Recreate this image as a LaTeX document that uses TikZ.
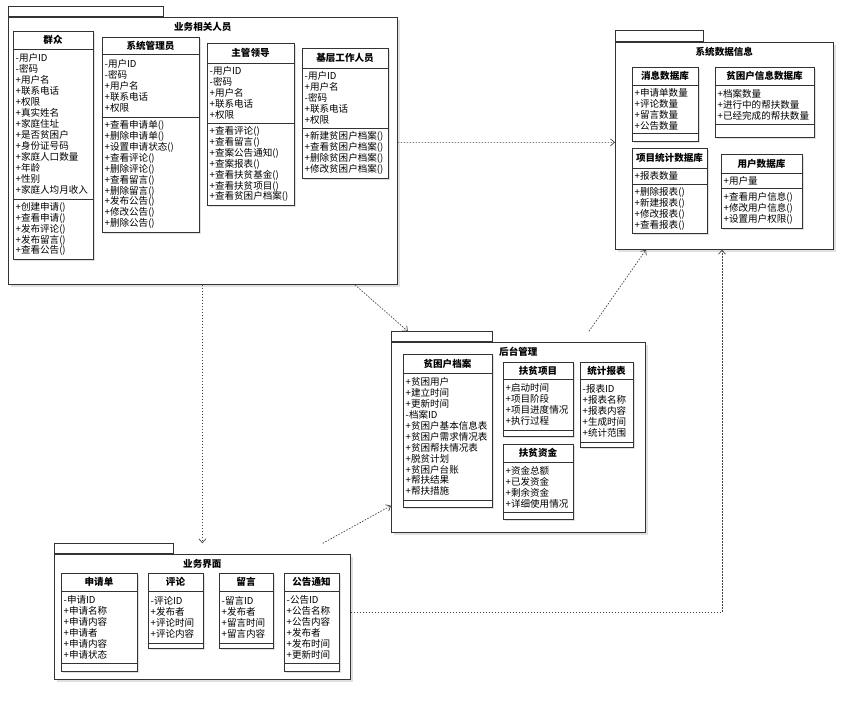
\documentclass[tikz,border=0pt]{standalone}
\usepackage{fontspec}
\setmainfont{Noto Sans CJK SC}
\usetikzlibrary{arrows.meta,shadows,calc}

\tikzset{
  line/.style={draw=black!80, line width=0.7bp},
  pkg/.style={line, fill=white, inner sep=0pt, anchor=north west,
    drop shadow={shadow xshift=2.5bp, shadow yshift=-2.5bp, fill=black!12, opacity=1}},
  pkgtab/.style={line, fill=white, inner sep=0pt, anchor=south west},
  pttl/.style={font=\bfseries\fontsize{9.6}{11}\selectfont, inner sep=0pt},
  cttl/.style={font=\bfseries\fontsize{9.6}{11}\selectfont, inner sep=0pt},
  lst/.style={font=\fontsize{9.6}{11}\selectfont, align=left, anchor=west, inner sep=0pt},
  dep/.style={draw=black!75, line width=0.7bp, dash pattern=on 1.5bp off 1.5bp,
    -{Straight Barb[length=4bp,width=7bp]}}
}

\newcommand{\umlbox}[7]{%
  \fill[black!12] (#2+2,#3+2) rectangle (#4+2,#7+2);
  \draw[line, fill=white] (#2,#3) rectangle (#4,#7);
  \draw[line] (#2,#5) -- (#4,#5) (#2,#6) -- (#4,#6);
  \coordinate (#1-hd) at ({(#2+#4)/2},{(#3+#5)/2});
  \coordinate (#1-at) at (#2+2.5,{(#5+#6)/2});
  \coordinate (#1-op) at (#2+2.5,{(#6+#7)/2});
}

\begin{document}
\begin{tikzpicture}[x=1bp,y=-1bp]
  \useasboundingbox (0,0) rectangle (863,709);

  \node[pkg, minimum width=389bp, minimum height=267bp] (peo) at (8,17) {};
  \node[pkgtab, minimum width=155bp, minimum height=10bp] (peo-tab) at (peo.north west) {};
  \node[pttl] (peo-t) at ([yshift=-10bp]peo.north) {业务相关人员};

  \node[pkg, minimum width=218bp, minimum height=207bp] (db) at (615,42) {};
  \node[pkgtab, minimum width=88bp, minimum height=11bp] (db-tab) at (db.north west) {};
  \node[pttl] (db-t) at ([yshift=-10bp]db.north) {系统数据信息};

  \node[pkg, minimum width=254bp, minimum height=190bp] (ht) at (391,342) {};
  \node[pkgtab, minimum width=101bp, minimum height=10bp] (ht-tab) at (ht.north west) {};
  \node[pttl] (ht-t) at ([yshift=-10bp]ht.north) {后台管理};

  \node[pkg, minimum width=296bp, minimum height=125bp] (jm) at (54,554) {};
  \node[pkgtab, minimum width=119bp, minimum height=10bp] (jm-tab) at (jm.north west) {};
  \node[pttl] (jm-t) at ([yshift=-10bp]jm.north) {业务界面};

  \umlbox{qz}{13}{31}{93}{49}{199}{259}
  \node[cttl] (qz-t) at (qz-hd) {群众};
  \node[lst] (qz-a) at (qz-at) {-用户ID\\-密码\\+用户名\\+联系电话\\+权限\\+真实姓名\\+家庭住址\\+是否贫困户\\+身份证号码\\+家庭人口数量\\+年龄\\+性别\\+家庭人均月收入};
  \node[lst] (qz-o) at (qz-op) {+创建申请()\\+查看申请()\\+发布评论()\\+发布留言()\\+查看公告()};

  \umlbox{gly}{102}{37}{199}{54}{117}{232}
  \node[cttl] (gly-t) at (gly-hd) {系统管理员};
  \node[lst] (gly-a) at (gly-at) {-用户ID\\-密码\\+用户名\\+联系电话\\+权限};
  \node[lst] (gly-o) at (gly-op) {+查看申请单()\\+删除申请单()\\+设置申请状态()\\+查看评论()\\+删除评论()\\+查看留言()\\+删除留言()\\+发布公告()\\+修改公告()\\+删除公告()};

  \umlbox{ld}{207}{43}{294}{63}{123}{205}
  \node[cttl] (ld-t) at (ld-hd) {主管领导};
  \node[lst] (ld-a) at (ld-at) {-用户ID\\-密码\\+用户名\\+联系电话\\+权限};
  \node[lst] (ld-o) at (ld-op) {+查看评论()\\+查看留言()\\+查案公告通知()\\+查案报表()\\+查看扶贫基金()\\+查看扶贫项目()\\+查看贫困户档案()};

  \umlbox{jc}{302}{48}{388}{68}{128}{178}
  \node[cttl] (jc-t) at (jc-hd) {基层工作人员};
  \node[lst] (jc-a) at (jc-at) {-用户ID\\+用户名\\-密码\\+联系电话\\+权限};
  \node[lst] (jc-o) at (jc-op) {+新建贫困户档案()\\+查看贫困户档案()\\+删除贫困户档案()\\+修改贫困户档案()};

  \umlbox{xx}{632}{67}{698}{85}{133}{141}
  \node[cttl] (xx-t) at (xx-hd) {消息数据库};
  \node[lst] (xx-a) at (xx-at) {+申请单数量\\+评论数量\\+留言数量\\+公告数量};

  \umlbox{pkx}{715}{67}{814}{85}{124}{137}
  \node[cttl] (pkx-t) at (pkx-hd) {贫困户信息数据库};
  \node[lst] (pkx-a) at (pkx-at) {+档案数量\\+进行中的帮扶数量\\+已经完成的帮扶数量};

  \umlbox{xmtj}{632}{148}{707}{168}{184}{233}
  \node[cttl] (xmtj-t) at (xmtj-hd) {项目统计数据库};
  \node[lst] (xmtj-a) at (xmtj-at) {+报表数量};
  \node[lst] (xmtj-o) at (xmtj-op) {+删除报表()\\+新建报表()\\+修改报表()\\+查看报表()};

  \umlbox{yh}{721}{154}{802}{173}{188}{228}
  \node[cttl] (yh-t) at (yh-hd) {用户数据库};
  \node[lst] (yh-a) at (yh-at) {+用户量};
  \node[lst] (yh-o) at (yh-op) {+查看用户信息()\\+修改用户信息()\\+设置用户权限()};

  \umlbox{da}{403}{354}{492}{373}{500}{507}
  \node[cttl] (da-t) at (da-hd) {贫困户档案};
  \node[lst] (da-a) at (da-at) {+贫困用户\\+建立时间\\+更新时间\\-档案ID\\+贫困户基本信息表\\+贫困户需求情况表\\+贫困帮扶情况表\\+脱贫计划\\+贫困户台账\\+帮扶结果\\+帮扶措施};

  \umlbox{xm}{503}{362}{573}{379}{430}{436}
  \node[cttl] (xm-t) at (xm-hd) {扶贫项目};
  \node[lst] (xm-a) at (xm-at) {+启动时间\\+项目阶段\\+项目进度情况\\+执行过程};

  \umlbox{bb}{580}{362}{633}{379}{442}{447}
  \node[cttl] (bb-t) at (bb-hd) {统计报表};
  \node[lst] (bb-a) at (bb-at) {-报表ID\\+报表名称\\+报表内容\\+生成时间\\+统计范围};

  \umlbox{zj}{503}{444}{573}{462}{512}{519}
  \node[cttl] (zj-t) at (zj-hd) {扶贫资金};
  \node[lst] (zj-a) at (zj-at) {+资金总额\\+已发资金\\+剩余资金\\+详细使用情况};

  \umlbox{sqd}{61}{573}{137}{591}{663}{671}
  \node[cttl] (sqd-t) at (sqd-hd) {申请单};
  \node[lst] (sqd-a) at (sqd-at) {-申请ID\\+申请名称\\+申请内容\\+申请者\\+申请内容\\+申请状态};

  \umlbox{pl}{148}{573}{203}{591}{643}{648}
  \node[cttl] (pl-t) at (pl-hd) {评论};
  \node[lst] (pl-a) at (pl-at) {-评论ID\\+发布者\\+评论时间\\+评论内容};

  \umlbox{ly}{219}{573}{273}{591}{643}{648}
  \node[cttl] (ly-t) at (ly-hd) {留言};
  \node[lst] (ly-a) at (ly-at) {-留言ID\\+发布者\\+留言时间\\+留言内容};

  \umlbox{gg}{284}{573}{339}{591}{663}{671}
  \node[cttl] (gg-t) at (gg-hd) {公告通知};
  \node[lst] (gg-a) at (gg-at) {-公告ID\\+公告名称\\+公告内容\\+发布者\\+发布时间\\+更新时间};

  \draw[dep] ([yshift=8.5bp]peo.east) -- ([yshift=3.5bp]db.west);
  \draw[dep] ([xshift=152bp]peo.south) -- ([xshift=-34bp]ht-tab.north);
  \draw[dep] (peo.south -| jm.north) -- (jm.north |- jm-tab.north);
  \draw[dep] ([xshift=-28bp]jm.north east |- jm-tab.north) -- ([yshift=27bp]ht.south west);
  \draw[dep] ([xshift=198bp]ht.north west |- ht-tab.north) -- ([xshift=31bp]db.south west);
  \draw[dep] ([yshift=4.5bp]jm.east) -| ([xshift=107bp]db.south west);
\end{tikzpicture}
\end{document}
